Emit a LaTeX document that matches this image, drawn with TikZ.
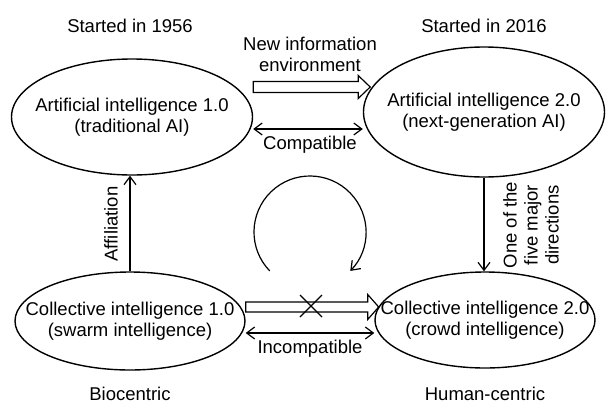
\documentclass[tikz,border=0pt]{standalone}
\usepackage{fontspec}
\setmainfont{Liberation Sans}
\usetikzlibrary{shapes.geometric,arrows.meta}

\tikzset{
  ell/.style={draw, ellipse, line width=1.4pt, inner xsep=-30pt, inner ysep=0pt, align=center},
  lbl/.style={align=center, inner sep=0pt},
  arr/.style={line width=1.2pt},
}

\begin{document}
\begin{tikzpicture}[x=1pt,y=1pt,font=\fontsize{18.5}{21}\selectfont,
  >={Straight Barb[length=8pt,width=12pt]}]
\useasboundingbox (0,0) rectangle (606,-405);

%ELLIPSES
\node [ell, minimum width=241pt, minimum height=116pt] (ai1) at (132,-117) {Artificial intelligence 1.0\\(traditional AI)};
\node [ell, minimum width=241pt, minimum height=130pt] (ai2) at (484,-112) {Artificial intelligence 2.0\\(next-generation AI)};
\node [ell, minimum width=230pt, minimum height=98pt] (ci1) at (130,-321) {Collective intelligence 1.0\\(swarm intelligence)};
\node [ell, minimum width=220pt, minimum height=96pt] (ci2) at (485,-320) {Collective intelligence 2.0\\(crowd intelligence)};

%Labels
\node [lbl] (start1) at (130,-26) {Started in 1956};
\node [lbl] (start2) at (484,-26) {Started in 2016};
\node [lbl] (bio) at (130,-394) {Biocentric};
\node [lbl] (human) at (485,-394) {Human-centric};
\node [lbl] (newinfo) at (310,-54) {New information\\environment};
\node [lbl] (compat) at (310,-145) {Compatible};
\node [lbl] (incompat) at (310,-349) {Incompatible};
\node [lbl, rotate=90] (affil) at (111,-224) {Affiliation};
\node [lbl, rotate=90] (major) at (531,-225) {One of the\\five major\\directions};

%Hollow arrows
\draw [arr] (ai1.east |- 0,-87) ++(0,5.5) -- ++(105,0) -- ++(0,6) -- ++(12,-11.5)
  -- ++(-12,-11.5) -- ++(0,6) -- ++(-105,0) -- cycle;
\draw [arr] (ci1.east |- 0,-307) ++(0,5) -- ++(122,0) -- ++(0,7.5) -- ++(11,-12.5)
  -- ++(-11,-12.5) -- ++(0,7.5) -- ++(-122,0) -- cycle;

%Cross
\coordinate (cross) at (311,-306);
\draw [arr] (cross) ++(-11,11) -- ++(22,-22);
\draw [arr] (cross) ++(-11,-11) -- ++(22,22);

%Double arrows
\draw [arr,<->] (ai1.east |- 0,-129) -- (ai2.west |- 0,-129);
\draw [arr,<->] (ci1.east |- 0,-333) -- (ci2.west |- 0,-333);

%Vertical arrows
\draw [arr,->] (ci1.north) -- (ci1.north |- ai1.south);
\draw [arr,->] (ai2.south) -- (ai2.south |- ci2.north);

%Cycle
\coordinate (loop) at (310,-232);
\draw [arr,->] (loop) ++(224:56) arc [start angle=224, end angle=-44, radius=56];

\end{tikzpicture}
\end{document}
